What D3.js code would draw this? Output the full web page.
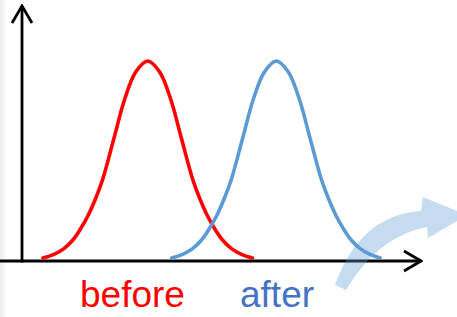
<!DOCTYPE html>
<html>
<head>
<meta charset="utf-8">
<script src="https://cdn.jsdelivr.net/npm/d3@7"></script>
<style>
  html, body { margin: 0; padding: 0; background: #fff; }
  svg { display: block; }
</style>
</head>
<body>
<div id="chart"></div>
<script>
// series (x in axis units, y in % of peak)
var seriesNames = ["before", "after"];
var beforeX = [1.05, 1.6, 2.1, 2.55, 2.9, 3.3, 3.7, 4.05, 4.6, 5.15, 5.7, 6.3, 6.9, 7.45, 8.0, 8.55, 8.9, 9.3, 9.7, 10.05, 10.5, 11.0, 11.55];
var beforeY = [1.5, 3.3, 6.2, 10.5, 15.5, 22.5, 31.5, 41, 61, 81, 94.5, 100, 94.5, 81, 61, 41, 31.5, 22.5, 15.5, 10.5, 6.2, 3.3, 1.5];
var afterX = [7.5, 8.05, 8.55, 9.0, 9.35, 9.75, 10.15, 10.5, 11.05, 11.6, 12.15, 12.75, 13.35, 13.9, 14.45, 15.0, 15.35, 15.75, 16.15, 16.5, 16.95, 17.45, 17.95];
var afterY = [1.5, 3.3, 6.2, 10.5, 15.5, 22.5, 31.5, 41, 61, 81, 94.5, 100, 94.5, 81, 61, 41, 31.5, 22.5, 15.5, 10.5, 6.2, 3.3, 1.5];
var xMax = 20, yMax = 127.5;

var W = 457, H = 317;
var colors = { before: "#ff0000", after: "#5b9bd5" };
var textColors = { before: "#ff0000", after: "#4472c4" };

var svg = d3.select("#chart").append("svg")
  .attr("width", W).attr("height", H);

var x = d3.scaleLinear().domain([0, xMax]).range([22, 421]);
var y = d3.scaleLinear().domain([0, yMax]).range([261, 6]);

// faint strip of the neighbouring slide on the left
var grad = svg.append("defs").append("linearGradient").attr("id", "edge");
grad.append("stop").attr("offset", "0%").attr("stop-color", "#ececec");
grad.append("stop").attr("offset", "100%").attr("stop-color", "#ffffff");
svg.append("rect").attr("x", 0).attr("y", 0).attr("width", 7).attr("height", H)
  .attr("fill", "url(#edge)");

var defs = svg.append("defs");
defs.append("marker")
  .attr("id", "arrow")
  .attr("viewBox", "0 0 20 24")
  .attr("refX", 18).attr("refY", 12)
  .attr("markerWidth", 20).attr("markerHeight", 24)
  .attr("markerUnits", "userSpaceOnUse")
  .attr("orient", "auto")
  .append("path")
  .attr("d", "M1,2 L18,12 L1,22")
  .attr("fill", "none").attr("stroke", "#000").attr("stroke-width", 2.8);

// axes: no ticks, just the lines with open arrow heads
var xAxis = svg.append("g").attr("transform", "translate(0," + y(0) + ")")
  .call(d3.axisBottom(x).ticks(0).tickSizeOuter(0));
var yAxis = svg.append("g").attr("transform", "translate(" + x(0) + ",0)")
  .call(d3.axisLeft(y).ticks(0).tickSizeOuter(0));
[xAxis, yAxis].forEach(function (g) {
  g.select(".domain")
    .attr("stroke", "#000").attr("stroke-width", 2.8)
    .attr("marker-end", "url(#arrow)");
});
yAxis.select(".domain").attr("d", "M0," + (y(0) + 1.4) + "V" + y(yMax));
xAxis.select(".domain").attr("d", "M-1.4,0H" + x(xMax));

var line = d3.line()
  .x(function (d) { return x(d[0]); })
  .y(function (d) { return y(d[1]); })
  .curve(d3.curveCatmullRom.alpha(0.5));

var series = [
  { name: "before", pts: d3.zip(beforeX, beforeY) },
  { name: "after", pts: d3.zip(afterX, afterY) }
];

svg.selectAll("path.curve").data(series).enter().append("path")
  .attr("class", "curve")
  .attr("d", function (d) { return line(d.pts); })
  .attr("fill", "none")
  .attr("stroke", function (d) { return colors[d.name]; })
  .attr("stroke-width", 3.6)
  .attr("stroke-linecap", "round");

// decorative curved block arrow (bottom right)
svg.append("path")
  .attr("d", "M335,285 Q360,215 421,211 L423,197 L467,215 L428,238 L427,227 Q378,236 346,290 Z")
  .attr("fill", "#5b9bd5").attr("fill-opacity", 0.36);

// labels
var labelX = { before: 80, after: 240 };
svg.selectAll("text.lbl").data(seriesNames).enter().append("text")
  .attr("class", "lbl")
  .attr("x", function (d) { return labelX[d]; })
  .attr("y", 307)
  .attr("font-family", "Liberation Sans, Arial, sans-serif")
  .attr("font-size", 37)
  .attr("fill", function (d) { return textColors[d]; })
  .text(function (d) { return d; });
</script>
</body>
</html>
